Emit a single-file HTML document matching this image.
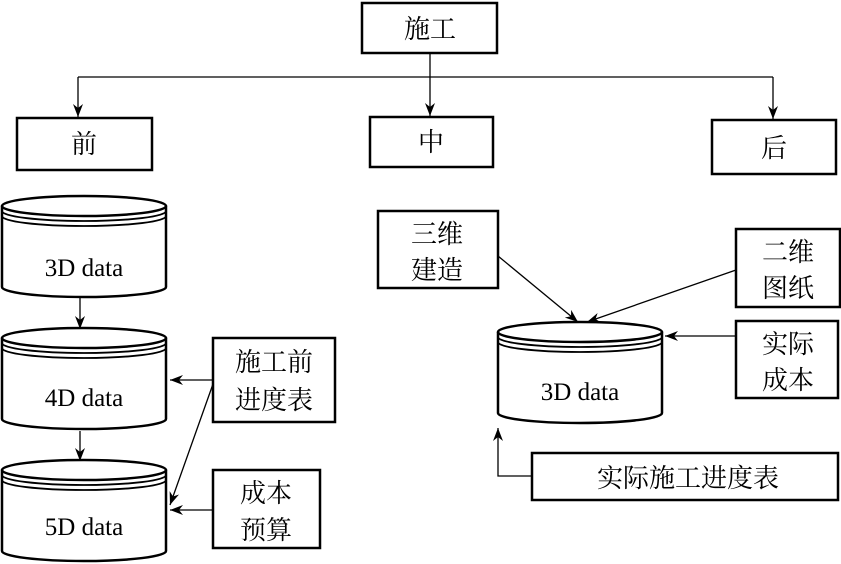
<!DOCTYPE html>
<html><head><meta charset="utf-8"><style>
html,body{margin:0;padding:0;background:#fff;}
svg{display:block;}
text{font-family:"Liberation Serif","Noto Serif CJK SC",serif;fill:#000;}
.c{font-family:"Liberation Serif","Noto Serif CJK SC","Noto Sans CJK SC",serif;}
</style></head><body>
<svg width="841" height="564" viewBox="0 0 841 564" xmlns="http://www.w3.org/2000/svg">
<defs>
<marker id="a" markerWidth="14" markerHeight="10" refX="13" refY="5" orient="auto" markerUnits="userSpaceOnUse">
<path d="M0,0 L13,5 L0,10 L4,5 Z" fill="#000"/>
</marker>
</defs>
<g fill="none" stroke="#000" stroke-width="2.5">
<rect x="362" y="3" width="135" height="50"/>
<rect x="17" y="118" width="135" height="52"/>
<rect x="370" y="117" width="123" height="50"/>
<rect x="712" y="120" width="124" height="54"/>
<rect x="213" y="338" width="122" height="84"/>
<rect x="213" y="470" width="107" height="78"/>
<rect x="378" y="211" width="120" height="77"/>
<rect x="736" y="229" width="104" height="78"/>
<rect x="736" y="321" width="102" height="77"/>
<rect x="532" y="453" width="306" height="47"/>
</g>
<g fill="none" stroke="#000" stroke-width="1.3">
<line x1="430" y1="53" x2="430" y2="77"/>
<line x1="78" y1="77" x2="773" y2="77"/>
<line x1="78" y1="77" x2="78" y2="117" marker-end="url(#a)"/>
<line x1="430" y1="77" x2="430" y2="116" marker-end="url(#a)"/>
<line x1="773" y1="77" x2="773" y2="119" marker-end="url(#a)"/>
<line x1="80" y1="297" x2="80" y2="329" marker-end="url(#a)"/>
<line x1="80" y1="431" x2="80" y2="461" marker-end="url(#a)"/>
<line x1="213" y1="380" x2="170" y2="380" marker-end="url(#a)"/>
<line x1="213" y1="384" x2="170" y2="505" marker-end="url(#a)"/>
<line x1="213" y1="510" x2="170" y2="510" marker-end="url(#a)"/>
<line x1="498" y1="256" x2="578" y2="322" marker-end="url(#a)"/>
<line x1="736" y1="270" x2="587" y2="322" marker-end="url(#a)"/>
<line x1="736" y1="336" x2="665" y2="336" marker-end="url(#a)"/>
<polyline points="532,476 498,476 498,428" marker-end="url(#a)"/>
</g>
<!-- cylinders -->
<g fill="none" stroke="#000" stroke-width="2.5">
<g id="cy">
<ellipse cx="84" cy="206" rx="82" ry="10"/>
<path d="M2,206 V287 A82,10 0 0 0 166,287 V206"/>
<path d="M2,211 A82,10 0 0 0 166,211" stroke-width="1.8"/>
<path d="M2,216 A82,10 0 0 0 166,216" stroke-width="1.8"/>
</g>
<use href="#cy" y="132"/>
<use href="#cy" y="264"/>
<g transform="translate(496,126)"><use href="#cy"/></g>
</g>
<g font-size="25" text-anchor="middle">
<text x="84" y="276">3D data</text>
<text x="84" y="406">4D data</text>
<text x="84" y="535">5D data</text>
<text x="580" y="400">3D data</text>
</g>
<g class="c" font-size="26" text-anchor="middle">
<text x="430" y="38">施工</text>
<text x="84" y="153">前</text>
<text x="431" y="151">中</text>
<text x="774" y="157">后</text>
<text x="274" y="371">施工前</text>
<text x="274" y="409">进度表</text>
<text x="266" y="502">成本</text>
<text x="266" y="539">预算</text>
<text x="437" y="243">三维</text>
<text x="437" y="279">建造</text>
<text x="788" y="261">二维</text>
<text x="788" y="297">图纸</text>
<text x="788" y="353">实际</text>
<text x="788" y="389">成本</text>
<text x="688" y="487">实际施工进度表</text>
</g>
</svg>
</body></html>
